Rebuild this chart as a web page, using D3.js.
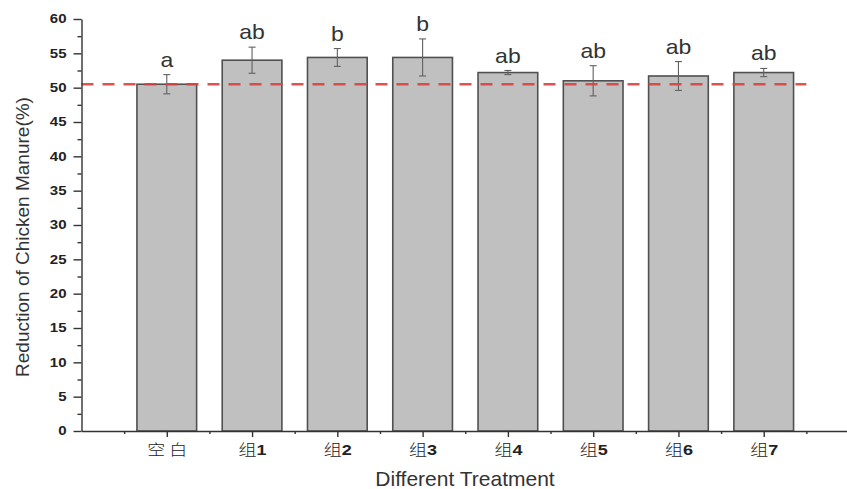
<!DOCTYPE html>
<html><head><meta charset="utf-8">
<script src="https://cdn.jsdelivr.net/npm/d3@7/dist/d3.min.js"></script>
<style>
body{margin:0;background:#fff}
svg{display:block}
text{font-family:"Liberation Sans",Arial,Helvetica,sans-serif}
</style>
</head><body>
<svg id="chart" width="847" height="489"></svg>
<script>
// ---- data ----
const categories = ["空 白","组1","组2","组3","组4","组5","组6","组7"];
const means      = [50.5, 54.0, 54.4, 54.4, 52.2, 51.0, 51.7, 52.2];
const errors     = [1.4, 1.9, 1.3, 2.7, 0.3, 2.2, 2.1, 0.6];
const letters    = ["a","ab","b","b","ab","ab","ab","ab"];
const referenceValue = 50.5;
const yTickValues = [0,5,10,15,20,25,30,35,40,45,50,55,60];
const yMinorValues = [2.5,7.5,12.5,17.5,22.5,27.5,32.5,37.5,42.5,47.5,52.5,57.5];
const xTitle = "Different Treatment";
const yTitle = "Reduction of Chicken Manure(%)";

// ---- chart ----
const svg = d3.select("#chart");
const x = d3.scaleLinear().domain([0, 9]).range([81.5, 849]);
const y = d3.scaleLinear().domain([0, 60]).range([431, 19]);
const pos = categories.map((c, i) => i + 1);
const xMinorValues = d3.range(0.5, categories.length + 0.6, 1);
const barW = x(0.7) - x(0);
const data = categories.map((c, i) => ({c, p: pos[i], m: means[i], e: errors[i], l: letters[i]}));

// bars
svg.append("g").selectAll("rect").data(data).join("rect")
  .attr("x", d => x(d.p) - barW / 2)
  .attr("y", d => y(d.m))
  .attr("width", barW)
  .attr("height", d => y(0) - y(d.m))
  .attr("fill", "#c0c0c0")
  .attr("stroke", "#505050")
  .attr("stroke-width", 1.6);

// error bars
const eb = svg.append("g").attr("stroke", "#606060").attr("stroke-width", 1.1);
data.forEach(d => {
  const cx = x(d.p);
  eb.append("line").attr("x1", cx).attr("x2", cx).attr("y1", y(d.m + d.e)).attr("y2", y(d.m - d.e));
  eb.append("line").attr("x1", cx - 3.5).attr("x2", cx + 3.5).attr("y1", y(d.m + d.e)).attr("y2", y(d.m + d.e));
  eb.append("line").attr("x1", cx - 3.5).attr("x2", cx + 3.5).attr("y1", y(d.m - d.e)).attr("y2", y(d.m - d.e));
});

// reference dashed line
svg.append("line")
  .attr("x1", x(0)).attr("x2", x(8.5))
  .attr("y1", y(referenceValue)).attr("y2", y(referenceValue))
  .attr("stroke", "#d8403c").attr("stroke-opacity", 0.9)
  .attr("stroke-width", 2.6).attr("stroke-dasharray", "12,9");

// significance letters
svg.append("g").selectAll("text").data(data).join("text")
  .attr("transform", d => `translate(${x(d.p)},${y(d.m + d.e) - 8}) scale(1.15,1)`)
  .attr("text-anchor", "middle")
  .attr("font-size", 20)
  .attr("fill", "#333")
  .text(d => d.l);

// y axis
const yAxis = svg.append("g").attr("transform", `translate(${x(0)},0)`)
  .call(d3.axisLeft(y).tickValues(yTickValues).tickSize(8).tickSizeOuter(0).tickPadding(4));
svg.append("g").attr("transform", `translate(${x(0)},0)`)
  .call(d3.axisLeft(y).tickValues(yMinorValues).tickSize(4).tickFormat(""))
  .call(g => g.select(".domain").remove());
yAxis.selectAll("text")
  .attr("font-size", 12).attr("font-weight", "bold").attr("fill", "#222")
  .attr("transform", "scale(1.25,1)");

// x axis
const xAxis = svg.append("g").attr("transform", `translate(0,${y(0)})`)
  .call(d3.axisBottom(x).tickValues(pos).tickSize(6).tickSizeOuter(0).tickFormat(""));
svg.append("g").attr("transform", `translate(0,${y(0)})`)
  .call(d3.axisBottom(x).tickValues(xMinorValues).tickSize(3).tickFormat(""))
  .call(g => g.select(".domain").remove());
xAxis.selectAll(".tick").each(function(v, i) {
  const label = categories[i];
  const m = label.match(/^(\D+?)(\d*)$/);
  const t = d3.select(this).append("text")
    .attr("y", 24).attr("text-anchor", "middle").attr("fill", "#222")
    .attr("font-size", 15).attr("transform", "scale(1.2,1)");
  t.append("tspan").attr("font-family", "'Noto Sans CJK SC',sans-serif").attr("font-weight", 300).text(m[1]);
  if (m[2]) t.append("tspan").attr("font-weight", "bold").text(m[2]);
});

svg.selectAll(".domain, .tick line").attr("stroke", "#333").attr("stroke-width", 1.4);

// titles
svg.append("text")
  .attr("x", 465).attr("y", 486)
  .attr("text-anchor", "middle").attr("font-size", 21).attr("fill", "#333")
  .text(xTitle);
svg.append("text")
  .attr("transform", `translate(29,${(y(0) + y(60)) / 2 + 12}) rotate(-90)`)
  .attr("text-anchor", "middle").attr("font-size", 19).attr("fill", "#333")
  .text(yTitle);
</script>
</body></html>
